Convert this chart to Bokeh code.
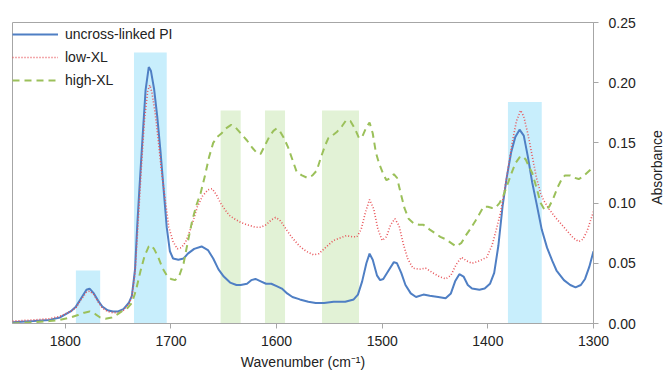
import math
from bokeh.plotting import figure
from bokeh.layouts import row
from bokeh.models import Range1d, FixedTicker, Legend, LegendItem, PrintfTickFormatter, Label
from bokeh.embed import file_html
from bokeh.resources import INLINE

# ---- data ----
pi_wn = [1850,1830,1815,1805,1795,1790,1785,1780,1777,1773,1769,1765,1760,1755,1750,1745,1740,1737,1734,1732,1730,1727,1724,1721,1719,1716,1713,1710,1707,1704,1701,1698,1693,1688,1684,1678,1671,1665,1660,1655,1650,1644,1638,1634,1628,1624,1620,1615,1610,1605,1600,1595,1590,1585,1578,1570,1563,1555,1546,1535,1527,1523,1519,1515,1512,1509,1505,1502,1499,1494,1489,1486,1482,1478,1473,1468,1461,1455,1447,1440,1435,1431,1427,1423,1419,1415,1408,1403,1398,1394,1390,1386,1382,1378,1374,1370,1366,1362,1358,1354,1349,1344,1339,1335,1328,1322,1317,1312,1308,1304,1300]
pi_abs = [0.001,0.002,0.003,0.005,0.010,0.014,0.021,0.028,0.029,0.025,0.019,0.014,0.011,0.010,0.010,0.012,0.017,0.023,0.045,0.080,0.110,0.153,0.194,0.213,0.210,0.195,0.172,0.144,0.112,0.080,0.060,0.054,0.053,0.054,0.058,0.062,0.064,0.061,0.054,0.045,0.039,0.034,0.032,0.032,0.033,0.036,0.037,0.035,0.033,0.033,0.031,0.029,0.025,0.022,0.020,0.018,0.017,0.017,0.018,0.018,0.020,0.024,0.035,0.050,0.058,0.053,0.040,0.036,0.037,0.044,0.051,0.050,0.042,0.032,0.025,0.022,0.024,0.023,0.022,0.021,0.025,0.035,0.041,0.039,0.032,0.029,0.028,0.029,0.033,0.042,0.065,0.098,0.122,0.142,0.155,0.161,0.156,0.138,0.117,0.100,0.078,0.063,0.052,0.044,0.036,0.032,0.030,0.032,0.037,0.047,0.060]

low_wn = [1850,1830,1815,1805,1795,1790,1785,1780,1777,1773,1769,1765,1760,1755,1750,1745,1740,1737,1734,1731,1728,1725,1722,1720,1718,1715,1712,1709,1705,1702,1698,1694,1690,1686,1682,1678,1675,1670,1665,1661,1657,1653,1650,1645,1640,1634,1628,1620,1615,1610,1605,1601,1597,1593,1590,1585,1578,1572,1565,1560,1555,1550,1546,1540,1534,1528,1524,1520,1516,1512,1508,1504,1500,1496,1492,1488,1484,1480,1476,1471,1465,1459,1452,1446,1440,1435,1430,1425,1420,1415,1408,1401,1396,1392,1388,1384,1381,1377,1373,1369,1366,1362,1358,1354,1350,1347,1342,1336,1331,1325,1319,1314,1310,1306,1303,1300]
low_abs = [0.002,0.003,0.004,0.006,0.010,0.013,0.020,0.026,0.027,0.024,0.018,0.013,0.010,0.009,0.009,0.011,0.016,0.022,0.042,0.085,0.130,0.170,0.193,0.198,0.192,0.175,0.152,0.127,0.100,0.080,0.068,0.062,0.063,0.068,0.077,0.088,0.097,0.106,0.111,0.112,0.107,0.100,0.096,0.090,0.087,0.084,0.082,0.080,0.080,0.082,0.086,0.088,0.086,0.081,0.077,0.071,0.064,0.060,0.057,0.058,0.062,0.066,0.069,0.071,0.073,0.072,0.072,0.078,0.092,0.103,0.095,0.078,0.069,0.072,0.082,0.087,0.081,0.066,0.054,0.046,0.045,0.046,0.042,0.039,0.037,0.040,0.049,0.055,0.052,0.050,0.052,0.055,0.065,0.078,0.092,0.112,0.128,0.150,0.168,0.177,0.172,0.157,0.139,0.121,0.108,0.102,0.095,0.088,0.083,0.077,0.071,0.068,0.070,0.077,0.085,0.093]

high_wn = [1850,1830,1815,1805,1795,1788,1782,1777,1772,1767,1762,1756,1750,1745,1741,1737,1733,1729,1725,1721,1719,1716,1712,1708,1704,1700,1696,1692,1688,1684,1680,1676,1672,1668,1664,1660,1656,1652,1648,1643,1639,1634,1628,1623,1618,1615,1611,1607,1603,1600,1597,1593,1589,1585,1581,1576,1571,1566,1562,1558,1554,1551,1546,1543,1538,1534,1530,1526,1522,1519,1515,1512,1509,1506,1503,1499,1496,1492,1489,1486,1483,1479,1475,1470,1465,1461,1455,1450,1445,1440,1435,1430,1425,1421,1417,1412,1408,1404,1400,1396,1393,1389,1385,1382,1378,1374,1370,1367,1364,1361,1358,1354,1350,1346,1342,1338,1334,1330,1327,1322,1318,1314,1310,1305,1300]
high_abs = [0.000,0.001,0.002,0.003,0.005,0.007,0.009,0.010,0.008,0.005,0.004,0.005,0.008,0.011,0.013,0.017,0.028,0.043,0.056,0.064,0.065,0.062,0.055,0.046,0.040,0.037,0.036,0.040,0.050,0.068,0.085,0.098,0.108,0.122,0.138,0.150,0.155,0.158,0.162,0.165,0.163,0.158,0.152,0.146,0.141,0.141,0.148,0.155,0.160,0.162,0.160,0.154,0.146,0.136,0.126,0.123,0.121,0.123,0.127,0.138,0.148,0.154,0.157,0.159,0.164,0.169,0.168,0.162,0.154,0.155,0.163,0.167,0.158,0.142,0.133,0.124,0.119,0.121,0.124,0.121,0.110,0.096,0.087,0.083,0.082,0.082,0.078,0.075,0.072,0.070,0.067,0.064,0.067,0.073,0.078,0.085,0.091,0.097,0.097,0.096,0.096,0.100,0.107,0.114,0.124,0.133,0.138,0.139,0.136,0.130,0.125,0.113,0.100,0.094,0.097,0.104,0.113,0.120,0.123,0.123,0.121,0.120,0.122,0.126,0.130]

band_left = [1790, 1735, 1653, 1611, 1557, 1381]
band_right = [1767, 1704, 1634, 1592, 1522, 1349]
band_top = [0.044, 0.225, 0.177, 0.177, 0.177, 0.184]
band_kind = ["blue", "blue", "green", "green", "green", "blue"]

x_ticks = [1800, 1700, 1600, 1500, 1400, 1300]
y_ticks = [0.00, 0.05, 0.10, 0.15, 0.20, 0.25]

# ---- figure ----
FONT = "Liberation Sans"
GRAY = "#a6a6a6"
TXT = "#222222"

p = figure(frame_width=581, frame_height=301, output_backend="svg", toolbar_location=None,
           x_range=Range1d(1850, 1300), y_range=Range1d(0, 0.25),
           y_axis_location="right", min_border_left=12, min_border_top=22,
           min_border_right=50, min_border_bottom=52)
p.background_fill_color = "white"
p.border_fill_color = "white"
p.outline_line_color = GRAY
p.outline_line_width = 1
p.grid.visible = False

band_colors = {"blue": "#c8eefc", "green": "#e2f2d6"}
p.quad(left=band_left, right=band_right, bottom=[0] * len(band_left), top=band_top,
       fill_color=[band_colors[k] for k in band_kind], line_color=None)

r1 = p.line(pi_wn, pi_abs, line_color="#4f7fc4", line_width=2)
r2 = p.line(low_wn, low_abs, line_color="#e8555a", line_width=1.6, line_dash="1 2")
r3 = p.line(high_wn, high_abs, line_color="#9bc05a", line_width=2, line_dash="7 5")

legend = Legend(items=[LegendItem(label="uncross-linked PI", renderers=[r1]),
                       LegendItem(label="low-XL", renderers=[r2]),
                       LegendItem(label="high-XL", renderers=[r3])],
                location=(0, 233), margin=0, padding=0, spacing=3,
                glyph_width=46, glyph_height=20, label_standoff=7,
                label_text_font=FONT, label_text_font_size="14px", label_text_color=TXT,
                background_fill_alpha=0, border_line_alpha=0)
p.add_layout(legend)

xa = p.xaxis[0]
xa.ticker = FixedTicker(ticks=x_ticks)
xa.formatter = PrintfTickFormatter(format="%d")
ya = p.yaxis[0]
ya.ticker = FixedTicker(ticks=y_ticks)
ya.formatter = PrintfTickFormatter(format="%.2f")
for ax in (xa, ya):
    ax.axis_line_color = GRAY
    ax.major_tick_line_color = GRAY
    ax.major_tick_out = 5
    ax.major_tick_in = 0
    ax.minor_tick_line_color = None
    ax.major_label_text_font = FONT
    ax.major_label_text_font_size = "14px"
    ax.major_label_text_color = TXT
    ax.axis_label_text_font = FONT
    ax.axis_label_text_font_size = "14px"
    ax.axis_label_text_font_style = "normal"
    ax.axis_label_text_color = TXT
xa.axis_label = "Wavenumber (cm\u207b\u00b9)"
xa.major_label_standoff = 7
xa.axis_label_standoff = 5
ya.major_label_standoff = 10

# side strip holding the rotated y-axis title
side = figure(width=23, height=375, output_backend="svg", toolbar_location=None,
              x_range=Range1d(0, 23), y_range=Range1d(0, 375),
              x_axis_type=None, y_axis_type=None,
              min_border_left=0, min_border_right=0, min_border_top=0, min_border_bottom=0)
side.outline_line_color = None
side.grid.visible = False
side.background_fill_color = "white"
side.border_fill_color = "white"
side.add_layout(Label(x=13, y=156, x_units="screen", y_units="screen", text="Absorbance",
                      angle=math.pi / 2, text_align="center", text_baseline="middle",
                      text_font=FONT, text_font_size="14px", text_color=TXT))

layout = row(p, side, spacing=0)
open("out.html", "w").write(file_html(layout, INLINE))
